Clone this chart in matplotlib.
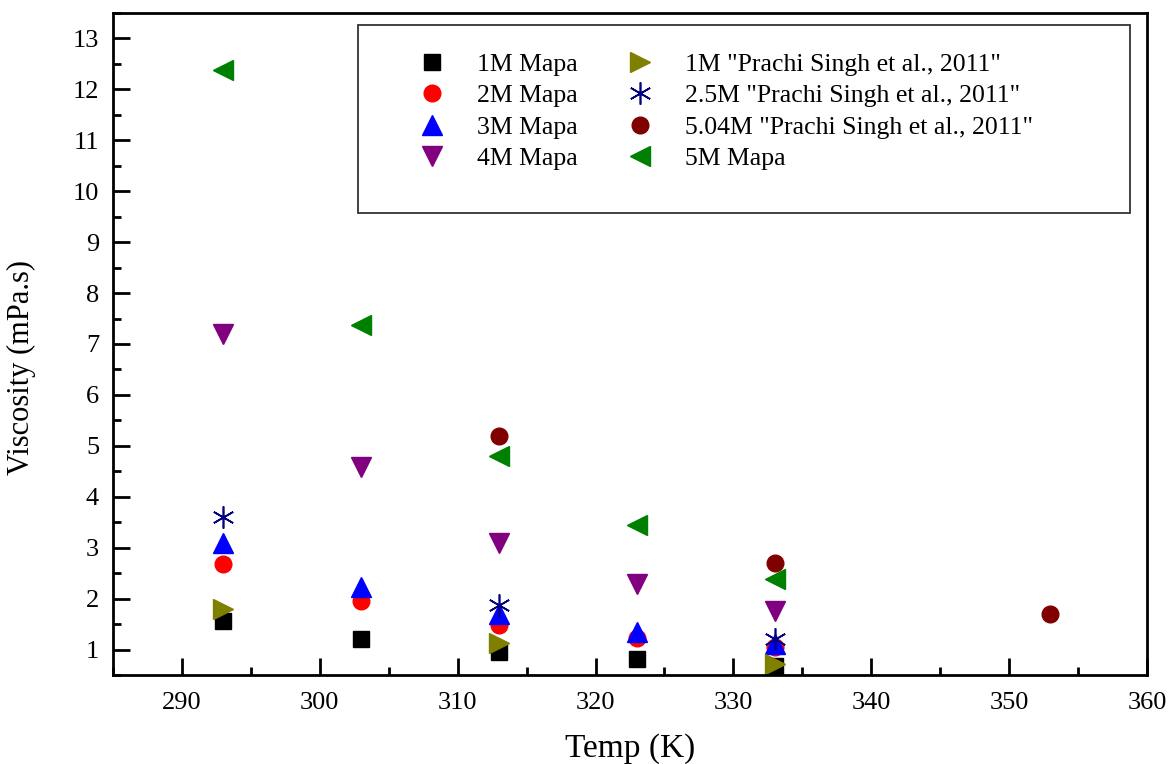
import matplotlib
matplotlib.use("Agg")
from matplotlib import pyplot as plt
from matplotlib.patches import Rectangle
from matplotlib.ticker import MultipleLocator

plt.rcParams['font.family'] = ['Liberation Serif', 'DejaVu Serif']

# temperatures (K)
t_mapa = [293, 303, 313, 323, 333]
t_1m_ps = [293, 313, 333]
t_25m_ps = [293, 313, 333]
t_504m_ps = [313, 333, 353]

# viscosities (mPa.s)
v_1m = [1.57, 1.20, 0.96, 0.82, 0.67]
v_2m = [2.68, 1.95, 1.48, 1.22, 1.05]
v_3m = [3.10, 2.22, 1.70, 1.35, 1.10]
v_4m = [7.20, 4.58, 3.10, 2.28, 1.75]
v_5m = [12.38, 7.38, 4.80, 3.45, 2.38]
v_1m_ps = [1.80, 1.12, 0.72]
v_25m_ps = [3.60, 1.88, 1.20]
v_504m_ps = [5.20, 2.70, 1.70]

fig = plt.figure(figsize=(11.71, 7.64), dpi=100)
ax = fig.add_axes([0.0965, 0.1165, 0.883, 0.8665])

ax.plot(t_mapa, v_1m, 's', color='black', ms=11, ls='none', label='1M Mapa')
ax.plot(t_mapa, v_2m, 'o', color='red', ms=12, ls='none', label='2M Mapa')
ax.plot(t_mapa, v_3m, '^', color='blue', ms=14, ls='none', label='3M Mapa')
ax.plot(t_mapa, v_4m, 'v', color='purple', ms=14, ls='none', label='4M Mapa')
ax.plot(t_1m_ps, v_1m_ps, '>', color='olive', ms=14, ls='none',
        label='1M "Prachi Singh et al., 2011"')
ax.plot(t_25m_ps, v_25m_ps, color='navy', ms=16, ls='none',
        marker=(6, 2, 0), markeredgewidth=1.2,
        label='2.5M "Prachi Singh et al., 2011"')
ax.plot(t_504m_ps, v_504m_ps, 'o', color='maroon', ms=12, ls='none',
        label='5.04M "Prachi Singh et al., 2011"')
ax.plot(t_mapa, v_5m, '<', color='green', ms=14, ls='none', label='5M Mapa')

ax.set_xlim(285, 360)
ax.set_ylim(0.5, 13.5)
ax.xaxis.set_major_locator(MultipleLocator(10))
ax.xaxis.set_minor_locator(MultipleLocator(5))
ax.yaxis.set_major_locator(MultipleLocator(1))
ax.yaxis.set_minor_locator(MultipleLocator(0.5))
ax.tick_params(which='major', direction='in', length=12, width=2, labelsize=19)
ax.tick_params(axis='x', which='major', pad=12)
ax.tick_params(axis='y', which='major', pad=10)
ax.tick_params(which='minor', direction='in', length=6, width=2)
ax.tick_params(axis='x', which='both', top=False)
ax.tick_params(axis='y', which='both', right=False)
for s in ax.spines.values():
    s.set_linewidth(2)

ax.set_xlabel('Temp (K)', fontsize=24, labelpad=14)
ax.set_ylabel('Viscosity (mPa.s)', fontsize=22)
ax.yaxis.set_label_coords(-0.074, 0.465)

# legend frame drawn separately (extra padding on left and bottom)
ax.add_patch(Rectangle((0.237, 0.698), 0.7466, 0.284, transform=ax.transAxes,
                       fill=True, facecolor='white', edgecolor='#333333',
                       lw=1.3, zorder=4))
leg = ax.legend(ncol=2, loc='upper left', bbox_to_anchor=(0.284, 0.940),
                fontsize=18.5, frameon=False, borderpad=0,
                labelspacing=0.33, columnspacing=1.4,
                handletextpad=0.75, borderaxespad=0)
leg.set_zorder(5)

fig.savefig('out.png', dpi=100)
